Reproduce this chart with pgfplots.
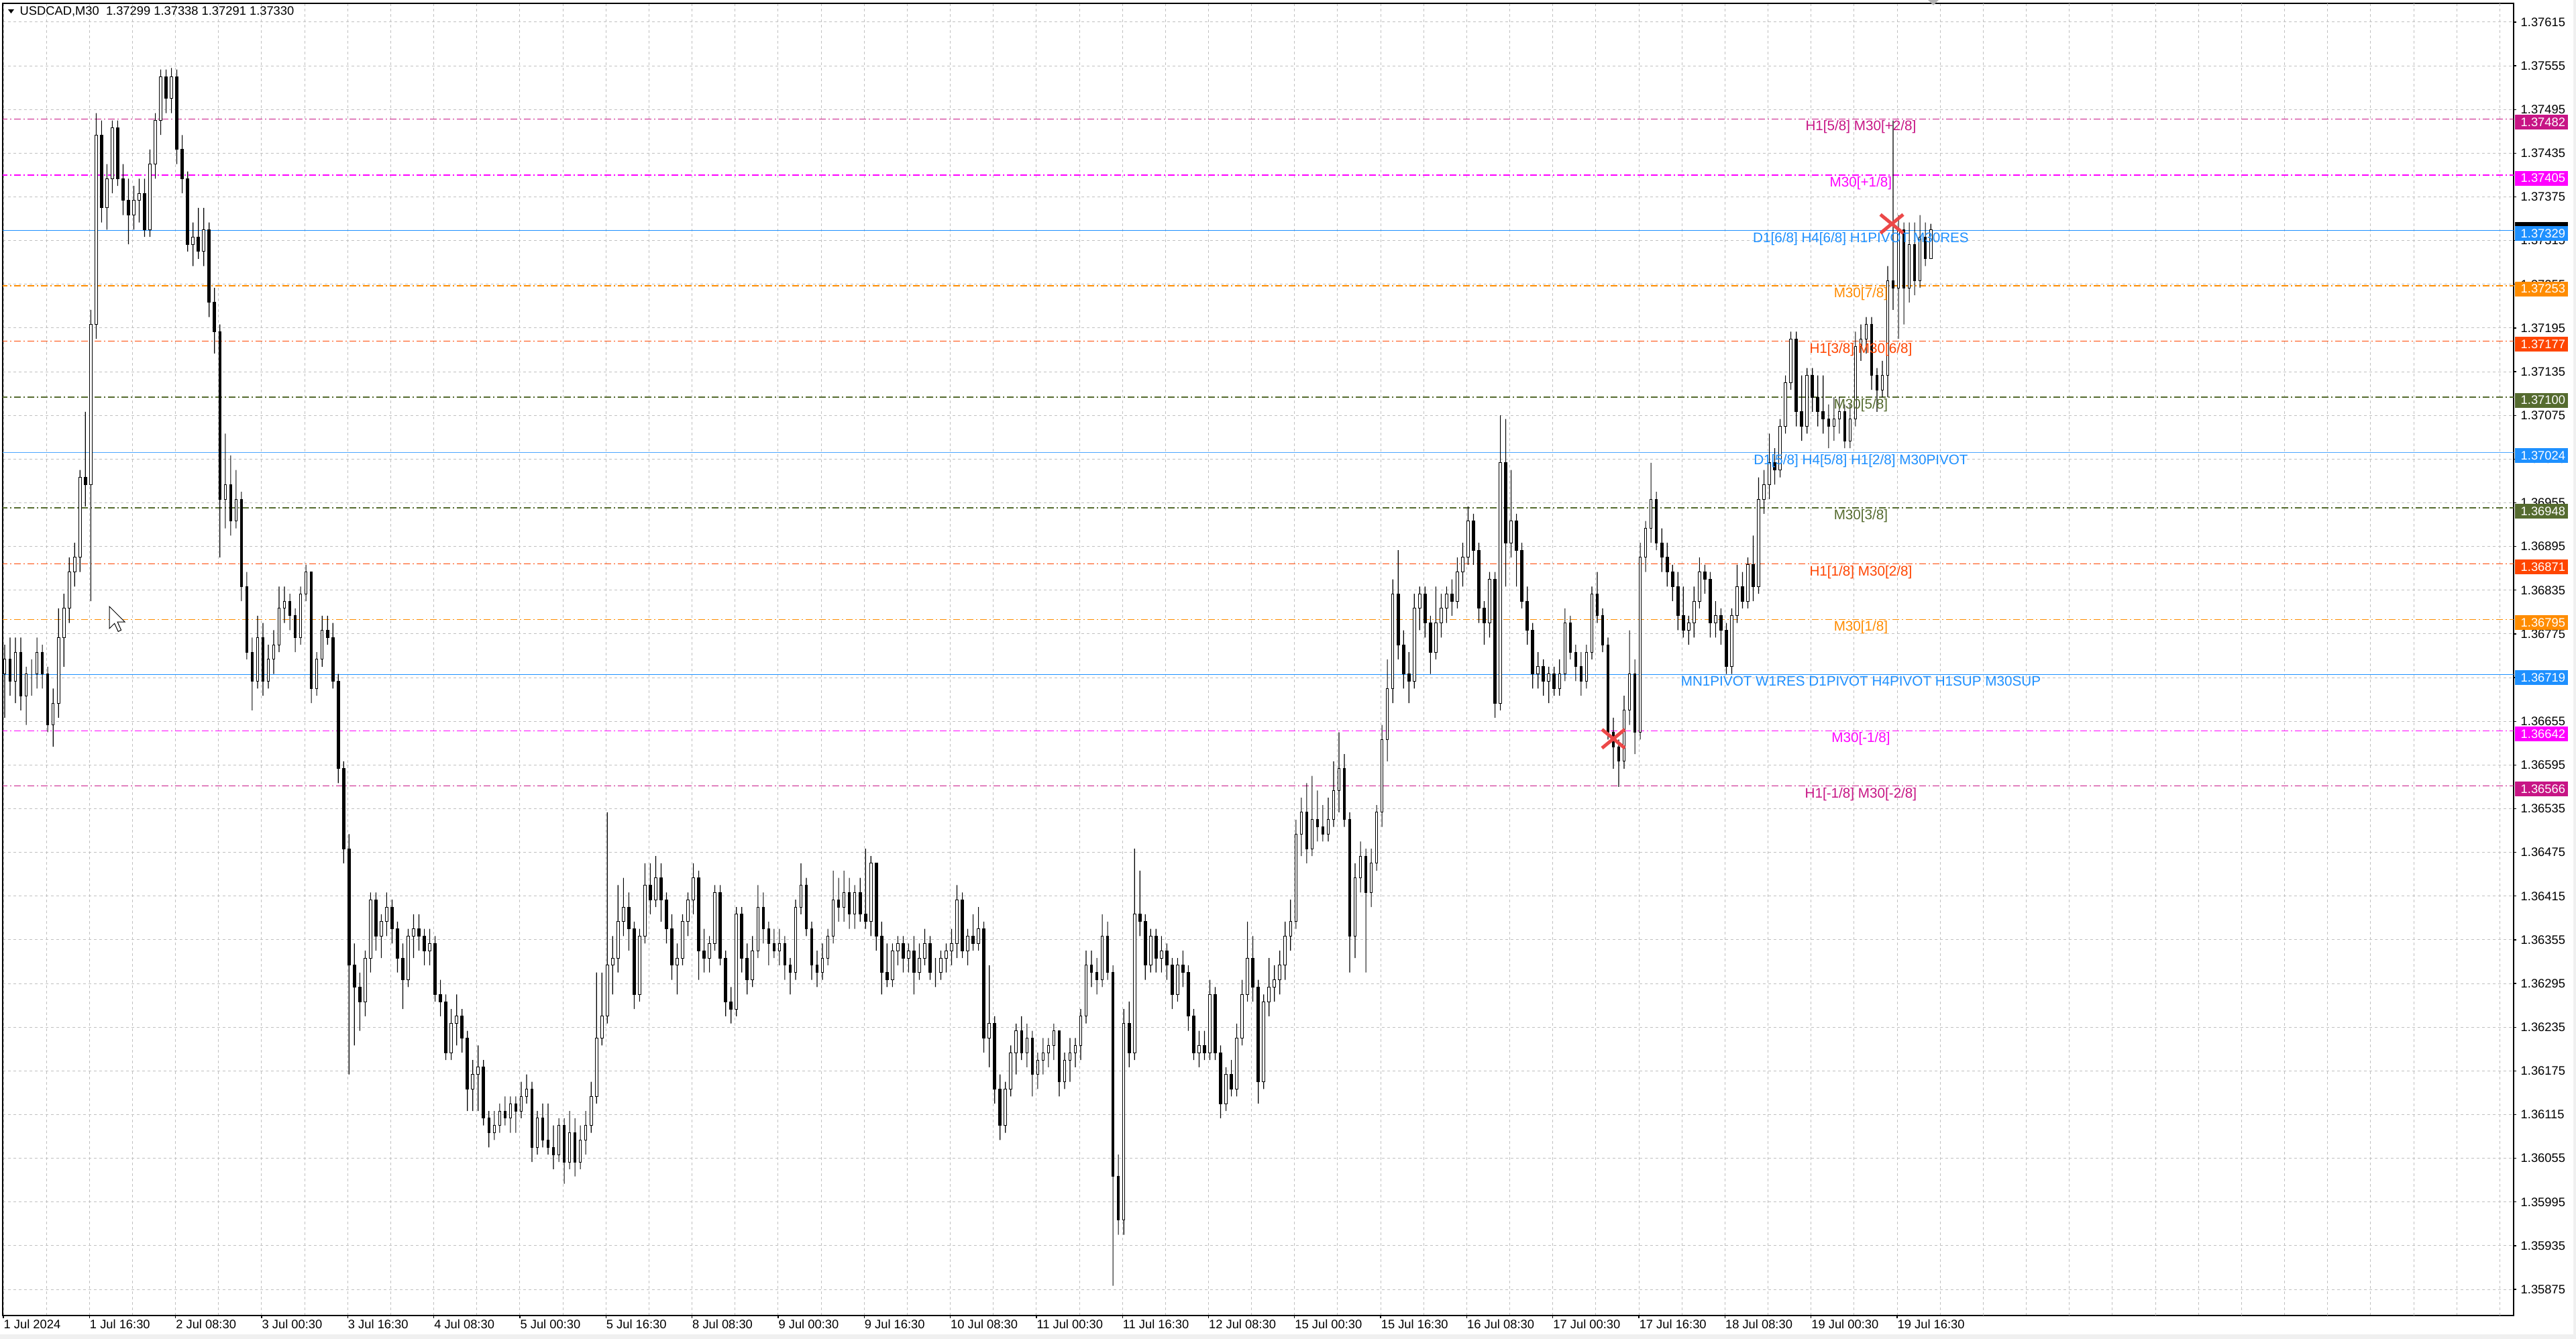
\documentclass[border=0pt]{standalone}
\usepackage{pgfplots}
\usepackage{pgfplotstable}
\pgfplotsset{compat=1.18}
\usepackage{fontspec}
\setmainfont{Liberation Sans}

\definecolor{mvr}{RGB}{199,21,133}
\definecolor{mag}{RGB}{255,0,255}
\definecolor{dblue}{RGB}{30,144,255}
\definecolor{dorange}{RGB}{255,140,0}
\definecolor{ored}{RGB}{255,69,0}
\definecolor{olive}{RGB}{85,107,47}
\definecolor{gridc}{RGB}{192,192,192}
\definecolor{xred}{RGB}{236,72,72}
\definecolor{chrome}{RGB}{240,240,240}

\newcommand\mtfont{\fontsize{5.5}{6}\selectfont}
\newcommand\lvfont{\fontsize{6.2}{7}\selectfont}

% USDCAD M30, one row per hour (two M30 bars), x = bar index
\pgfplotstableread{
x o h l c
0.5 1.3672 1.3676 1.3666 1.3674
2.5 1.3674 1.3677 1.3669 1.3671
4.5 1.3671 1.3677 1.3668 1.3675
6.5 1.3675 1.3677 1.3667 1.3669
8.5 1.3669 1.3673 1.3665 1.3672
10.5 1.3672 1.3674 1.3669 1.3672
12.5 1.3672 1.3677 1.3670 1.3675
14.5 1.3675 1.3676 1.3670 1.3672
16.5 1.3672 1.3673 1.3664 1.3665
18.5 1.3665 1.3670 1.3662 1.3668
20.5 1.3668 1.3681 1.3666 1.3677
22.5 1.3677 1.3683 1.3673 1.3681
24.5 1.3681 1.3688 1.3679 1.3686
26.5 1.3686 1.3690 1.3684 1.3688
28.5 1.3688 1.3700 1.3686 1.3699
30.5 1.3699 1.3708 1.3695 1.3698
32.5 1.3698 1.3722 1.3682 1.3720
34.5 1.3720 1.3749 1.3718 1.3746
36.5 1.3746 1.3748 1.3734 1.3736
38.5 1.3736 1.3742 1.3733 1.3740
40.5 1.3740 1.3748 1.3738 1.3747
42.5 1.3747 1.3748 1.3739 1.3740
44.5 1.3740 1.3742 1.3735 1.3737
46.5 1.3737 1.3740 1.3731 1.3735
48.5 1.3735 1.3739 1.3733 1.3737
50.5 1.3737 1.3740 1.3734 1.3738
52.5 1.3738 1.3740 1.3732 1.3733
54.5 1.3733 1.3744 1.3732 1.3742
56.5 1.3742 1.3749 1.3740 1.3748
58.5 1.3748 1.3755 1.3746 1.3754
60.5 1.3754 1.3755 1.3749 1.3751
62.5 1.3751 1.37552 1.3749 1.3754
64.5 1.3754 1.3755 1.3742 1.3744
66.5 1.3744 1.3746 1.3738 1.3740
68.5 1.3740 1.3741 1.3730 1.3731
70.5 1.3731 1.3734 1.3728 1.3732
72.5 1.3732 1.3736 1.3729 1.3730
74.5 1.3730 1.3736 1.3728 1.3733
76.5 1.3733 1.3734 1.3721 1.3723
78.5 1.3723 1.3725 1.3716 1.3719
80.5 1.3719 1.3720 1.3688 1.3696
82.5 1.3696 1.3705 1.3692 1.3698
84.5 1.3698 1.3702 1.3691 1.3693
86.5 1.3693 1.3700 1.3692 1.3696
88.5 1.3696 1.3697 1.3682 1.3684
90.5 1.3684 1.3686 1.3674 1.3675
92.5 1.3675 1.3677 1.3667 1.3671
94.5 1.3671 1.3680 1.3670 1.3677
96.5 1.3677 1.3679 1.3669 1.3671
98.5 1.3671 1.3676 1.3670 1.3674
100.5 1.3674 1.3678 1.3672 1.3676
102.5 1.3676 1.3684 1.3675 1.3681
104.5 1.3681 1.3684 1.3679 1.3682
106.5 1.3682 1.3683 1.3678 1.3680
108.5 1.3680 1.3681 1.3675 1.3677
110.5 1.3677 1.3684 1.3676 1.3683
112.5 1.3683 1.3687 1.3682 1.3686
114.5 1.3686 1.3686 1.3668 1.3670
116.5 1.3670 1.3675 1.3669 1.3674
118.5 1.3674 1.3680 1.3673 1.3678
120.5 1.3678 1.3680 1.3676 1.3677
122.5 1.3677 1.3679 1.3670 1.3671
124.5 1.3671 1.3672 1.3657 1.3659
126.5 1.3659 1.3660 1.3646 1.3648
128.5 1.3648 1.3650 1.3617 1.3632
130.5 1.3632 1.3635 1.3621 1.3629
132.5 1.3629 1.3631 1.3623 1.3627
134.5 1.3627 1.3634 1.3625 1.3633
136.5 1.3633 1.3642 1.3631 1.3641
138.5 1.3641 1.3642 1.3634 1.3636
140.5 1.3636 1.3639 1.3633 1.3638
142.5 1.3638 1.3642 1.3636 1.3640
144.5 1.3640 1.3641 1.3635 1.3637
146.5 1.3637 1.3638 1.3631 1.3633
148.5 1.3633 1.3635 1.3626 1.3630
150.5 1.3630 1.3637 1.3629 1.3636
152.5 1.3636 1.3639 1.3633 1.3637
154.5 1.3637 1.3639 1.3634 1.3636
156.5 1.3636 1.3637 1.3632 1.3634
158.5 1.3634 1.3637 1.3632 1.3635
160.5 1.3635 1.3636 1.3627 1.3628
162.5 1.3628 1.3630 1.3625 1.3627
164.5 1.3627 1.3628 1.3619 1.3620
166.5 1.3620 1.3626 1.3619 1.3624
168.5 1.3624 1.3628 1.3621 1.3625
170.5 1.3625 1.3626 1.3620 1.3622
172.5 1.3622 1.3623 1.3612 1.3615
174.5 1.3615 1.3619 1.3612 1.3617
176.5 1.3617 1.3621 1.3612 1.3618
178.5 1.3618 1.3619 1.3610 1.3611
180.5 1.3611 1.3612 1.3607 1.3609
182.5 1.3609 1.3612 1.3608 1.3610
184.5 1.3610 1.3613 1.3609 1.3612
186.5 1.3612 1.3614 1.3610 1.3611
188.5 1.3611 1.3614 1.3609 1.3613
190.5 1.3613 1.3614 1.3609 1.3612
192.5 1.3612 1.3616 1.3611 1.3614
194.5 1.3614 1.3617 1.3613 1.3615
196.5 1.3615 1.3616 1.3605 1.3607
198.5 1.3607 1.3612 1.3606 1.3611
200.5 1.3611 1.3613 1.3607 1.3608
202.5 1.3608 1.3613 1.3606 1.3607
204.5 1.3607 1.3610 1.3604 1.3606
206.5 1.3606 1.3611 1.3605 1.3610
208.5 1.3610 1.3611 1.3602 1.3605
210.5 1.3605 1.3612 1.3604 1.3609
212.5 1.3609 1.3611 1.3603 1.3605
214.5 1.3605 1.3610 1.3604 1.3608
216.5 1.3608 1.3612 1.3606 1.3610
218.5 1.3610 1.3616 1.3609 1.3614
220.5 1.3614 1.3631 1.3613 1.3622
222.5 1.3622 1.3631 1.3621 1.3625
224.5 1.3625 1.3653 1.3624 1.3632
226.5 1.3632 1.3636 1.3628 1.3633
228.5 1.3633 1.3643 1.3631 1.3638
230.5 1.3638 1.3644 1.3636 1.3640
232.5 1.3640 1.3642 1.3634 1.3637
234.5 1.3637 1.3638 1.3626 1.3628
236.5 1.3628 1.3637 1.3627 1.3636
238.5 1.3636 1.3646 1.3635 1.3643
240.5 1.3643 1.3646 1.3639 1.3641
242.5 1.3641 1.3647 1.3640 1.3644
244.5 1.3644 1.3646 1.3638 1.3641
246.5 1.3641 1.3642 1.3635 1.3637
248.5 1.3637 1.3639 1.3630 1.3632
250.5 1.3632 1.3635 1.3628 1.3633
252.5 1.3633 1.3639 1.3632 1.3638
254.5 1.3638 1.3642 1.3636 1.3641
256.5 1.3641 1.3646 1.3639 1.3644
258.5 1.3644 1.3645 1.3630 1.3634
260.5 1.3634 1.3637 1.3631 1.3633
262.5 1.3633 1.3636 1.3631 1.3635
264.5 1.3635 1.3643 1.3634 1.3642
266.5 1.3642 1.3643 1.3632 1.3633
268.5 1.3633 1.3634 1.3625 1.3627
270.5 1.3627 1.3629 1.3624 1.3626
272.5 1.3626 1.3640 1.3625 1.3639
274.5 1.3639 1.3640 1.3631 1.3633
276.5 1.3633 1.3635 1.3628 1.3630
278.5 1.3630 1.3636 1.3629 1.3634
280.5 1.3634 1.3643 1.3633 1.3640
282.5 1.3640 1.3642 1.3635 1.3637
284.5 1.3637 1.3638 1.3632 1.3635
286.5 1.3635 1.3637 1.3633 1.3634
288.5 1.3634 1.3637 1.3632 1.3635
290.5 1.3635 1.3636 1.3630 1.3632
292.5 1.3632 1.3633 1.3628 1.3631
294.5 1.3631 1.3641 1.3630 1.3640
296.5 1.3640 1.3646 1.3639 1.3643
298.5 1.3643 1.3644 1.3636 1.3637
300.5 1.3637 1.3638 1.3630 1.3632
302.5 1.3632 1.3634 1.3629 1.3631
304.5 1.3631 1.3635 1.3630 1.3633
306.5 1.3633 1.3637 1.3632 1.3636
308.5 1.3636 1.3645 1.3635 1.3641
310.5 1.3641 1.3644 1.3638 1.3640
312.5 1.3640 1.3645 1.3638 1.3642
314.5 1.3642 1.3644 1.3637 1.3639
316.5 1.3639 1.3643 1.3637 1.3642
318.5 1.3642 1.3644 1.3638 1.3639
320.5 1.3639 1.3648 1.3637 1.3638
322.5 1.3638 1.3647 1.3636 1.3646
324.5 1.3646 1.3646 1.3634 1.3636
326.5 1.3636 1.3638 1.3628 1.3631
328.5 1.3631 1.3635 1.3629 1.3630
330.5 1.3630 1.3635 1.3629 1.3634
332.5 1.3634 1.3636 1.3632 1.3635
334.5 1.3635 1.3636 1.3631 1.3633
336.5 1.3633 1.3635 1.3631 1.3634
338.5 1.3634 1.3636 1.3628 1.3631
340.5 1.3631 1.3635 1.3630 1.3633
342.5 1.3633 1.3637 1.3632 1.3635
344.5 1.3635 1.3636 1.3630 1.3631
346.5 1.3631 1.3633 1.3629 1.3631
348.5 1.3631 1.3634 1.3630 1.3633
350.5 1.3633 1.3635 1.3631 1.3634
352.5 1.3634 1.3637 1.3632 1.3635
354.5 1.3635 1.3643 1.3633 1.3641
356.5 1.3641 1.3642 1.3633 1.3634
358.5 1.3634 1.3637 1.3632 1.3636
360.5 1.3636 1.3639 1.3634 1.3635
362.5 1.3635 1.3640 1.3634 1.3637
364.5 1.3637 1.3638 1.3620 1.3622
366.5 1.3622 1.3632 1.3618 1.3624
368.5 1.3624 1.3625 1.3613 1.3615
370.5 1.3615 1.3617 1.3608 1.3610
372.5 1.3610 1.3616 1.3609 1.3615
374.5 1.3615 1.3621 1.3614 1.3620
376.5 1.3620 1.3624 1.3617 1.3623
378.5 1.3623 1.3625 1.3619 1.3620
380.5 1.3620 1.3624 1.3618 1.3622
382.5 1.3622 1.3623 1.3614 1.3617
384.5 1.3617 1.3620 1.3615 1.3619
386.5 1.3619 1.3622 1.3617 1.3620
388.5 1.3620 1.3622 1.3618 1.3621
390.5 1.3621 1.3624 1.3619 1.3623
392.5 1.3623 1.3623 1.3614 1.3616
394.5 1.3616 1.3620 1.3615 1.3619
396.5 1.3619 1.3622 1.3616 1.3620
398.5 1.3620 1.3622 1.3618 1.3621
400.5 1.3621 1.3626 1.3619 1.3625
402.5 1.3625 1.3634 1.3624 1.3632
404.5 1.3632 1.3634 1.3629 1.3631
406.5 1.3631 1.3633 1.3628 1.3630
408.5 1.3630 1.3639 1.3629 1.3636
410.5 1.3636 1.3638 1.3630 1.3631
412.5 1.3631 1.3632 1.3588 1.3603
414.5 1.3603 1.3606 1.3595 1.3597
416.5 1.3597 1.3626 1.3595 1.3624
418.5 1.3624 1.3627 1.3618 1.3620
420.5 1.3620 1.3648 1.3619 1.3639
422.5 1.3639 1.3645 1.3636 1.3638
424.5 1.3638 1.3639 1.3630 1.3632
426.5 1.3632 1.3637 1.3631 1.3636
428.5 1.3636 1.3637 1.3631 1.3633
430.5 1.3633 1.3636 1.3631 1.3634
432.5 1.3634 1.3635 1.3630 1.3632
434.5 1.3632 1.3633 1.3626 1.3628
436.5 1.3628 1.3633 1.3627 1.3632
438.5 1.3632 1.3634 1.3629 1.3631
440.5 1.3631 1.3632 1.3623 1.3625
442.5 1.3625 1.3626 1.3619 1.3620
444.5 1.3620 1.3623 1.3618 1.3621
446.5 1.3621 1.3623 1.3619 1.3620
448.5 1.3620 1.3630 1.3619 1.3628
450.5 1.3628 1.3629 1.3619 1.3620
452.5 1.3620 1.3621 1.3611 1.3613
454.5 1.3613 1.3618 1.3612 1.3617
456.5 1.3617 1.3619 1.3614 1.3615
458.5 1.3615 1.3624 1.3614 1.3622
460.5 1.3622 1.3630 1.3621 1.3628
462.5 1.3628 1.3638 1.3627 1.3633
464.5 1.3633 1.3636 1.3627 1.3629
466.5 1.3629 1.3630 1.3613 1.3616
468.5 1.3616 1.3628 1.3615 1.3627
470.5 1.3627 1.3633 1.3625 1.3629
472.5 1.3629 1.3632 1.3627 1.3630
474.5 1.3630 1.3634 1.3628 1.3632
476.5 1.3632 1.3638 1.3630 1.3636
478.5 1.3636 1.3641 1.3634 1.3638
480.5 1.3638 1.3652 1.3637 1.3650
482.5 1.3650 1.3655 1.3647 1.3653
484.5 1.3653 1.3657 1.3646 1.3648
486.5 1.3648 1.3658 1.3647 1.3652
488.5 1.3652 1.3656 1.3649 1.3651
490.5 1.3651 1.3654 1.3649 1.3650
492.5 1.3650 1.3655 1.3649 1.3652
494.5 1.3652 1.3660 1.3651 1.3656
496.5 1.3656 1.3664 1.3653 1.3659
498.5 1.3659 1.3661 1.3651 1.3652
500.5 1.3652 1.3653 1.3631 1.3636
502.5 1.3636 1.3646 1.3633 1.3644
504.5 1.3644 1.3649 1.3642 1.3647
506.5 1.3647 1.3648 1.3631 1.3642
508.5 1.3642 1.3648 1.3640 1.3646
510.5 1.3646 1.3654 1.3645 1.3653
512.5 1.3653 1.3665 1.3651 1.3663
514.5 1.3663 1.3674 1.3660 1.3670
516.5 1.3670 1.3685 1.3668 1.3683
518.5 1.3683 1.3689 1.3674 1.3676
520.5 1.3676 1.3678 1.3670 1.3672
522.5 1.3672 1.3675 1.3668 1.3671
524.5 1.3671 1.3683 1.3670 1.3681
526.5 1.3681 1.3684 1.3678 1.3683
528.5 1.3683 1.3684 1.3677 1.3679
530.5 1.3679 1.3680 1.3672 1.3675
532.5 1.3675 1.3684 1.3674 1.3679
534.5 1.3679 1.3683 1.3677 1.3681
536.5 1.3681 1.3684 1.3679 1.3683
538.5 1.3683 1.3685 1.3680 1.3682
540.5 1.3682 1.3688 1.3681 1.3686
542.5 1.3686 1.3690 1.3684 1.3688
544.5 1.3688 1.3695 1.3687 1.3693
546.5 1.3693 1.3694 1.3687 1.3689
548.5 1.3689 1.3690 1.3679 1.3681
550.5 1.3681 1.3682 1.3676 1.3679
552.5 1.3679 1.3686 1.3677 1.3685
554.5 1.3685 1.3686 1.3666 1.3668
556.5 1.3668 1.37075 1.3667 1.3701
558.5 1.3701 1.3707 1.3684 1.3690
560.5 1.3690 1.3700 1.3688 1.3693
562.5 1.3693 1.3694 1.3684 1.3689
564.5 1.3689 1.3690 1.3681 1.3682
566.5 1.3682 1.3684 1.3676 1.3678
568.5 1.3678 1.3679 1.3670 1.3672
570.5 1.3672 1.3675 1.3670 1.3673
572.5 1.3673 1.3674 1.3669 1.3671
574.5 1.3671 1.3673 1.3668 1.3672
576.5 1.3672 1.3673 1.3669 1.3670
578.5 1.3670 1.3674 1.3669 1.3672
580.5 1.3672 1.3681 1.3671 1.3679
582.5 1.3679 1.3680 1.3674 1.3675
584.5 1.3675 1.3676 1.3671 1.3673
586.5 1.3673 1.3675 1.3669 1.3671
588.5 1.3671 1.3676 1.3670 1.3675
590.5 1.3675 1.3684 1.3674 1.3683
592.5 1.3683 1.3686 1.3679 1.3680
594.5 1.3680 1.3681 1.3675 1.3676
596.5 1.3676 1.3677 1.3663 1.3664
598.5 1.3664 1.3666 1.3659 1.3662
600.5 1.3662 1.3663 1.36565 1.3660
602.5 1.3660 1.3669 1.3659 1.3667
604.5 1.3667 1.3678 1.3665 1.3672
606.5 1.3672 1.3674 1.3661 1.3664
608.5 1.3664 1.3690 1.3663 1.3688
610.5 1.3688 1.3693 1.3686 1.3692
612.5 1.3692 1.3701 1.3690 1.3696
614.5 1.3696 1.3697 1.3689 1.3690
616.5 1.3690 1.3692 1.3686 1.3688
618.5 1.3688 1.3690 1.3684 1.3686
620.5 1.3686 1.3687 1.3682 1.3684
622.5 1.3684 1.3686 1.3678 1.3680
624.5 1.3680 1.3684 1.3677 1.3678
626.5 1.3678 1.3680 1.3676 1.3679
628.5 1.3679 1.3684 1.3677 1.3682
630.5 1.3682 1.3688 1.3681 1.3686
632.5 1.3686 1.3687 1.3683 1.3685
634.5 1.3685 1.3686 1.3677 1.3679
636.5 1.3679 1.3682 1.3677 1.3680
638.5 1.3680 1.3681 1.3676 1.3678
640.5 1.3678 1.3679 1.3672 1.3673
642.5 1.3673 1.3681 1.3672 1.3680
644.5 1.3680 1.3687 1.3679 1.3684
646.5 1.3684 1.3686 1.3681 1.3682
648.5 1.3682 1.3688 1.3681 1.3687
650.5 1.3687 1.3691 1.3682 1.3684
652.5 1.3684 1.3699 1.3683 1.3696
654.5 1.3696 1.3700 1.3694 1.3698
656.5 1.3698 1.3705 1.3696 1.3701
658.5 1.3701 1.3703 1.3698 1.3700
660.5 1.3700 1.3707 1.3699 1.3706
662.5 1.3706 1.3713 1.3705 1.3712
664.5 1.3712 1.3719 1.3711 1.3718
666.5 1.3718 1.3719 1.3706 1.3708
668.5 1.3708 1.3713 1.3704 1.3706
670.5 1.3706 1.3714 1.3705 1.3713
672.5 1.3713 1.3714 1.3708 1.3710
674.5 1.3710 1.3713 1.3706 1.3708
676.5 1.3708 1.3713 1.3705 1.3707
678.5 1.3707 1.3709 1.3703 1.3706
680.5 1.3706 1.3710 1.3704 1.3707
682.5 1.3707 1.3710 1.3705 1.3708
684.5 1.3708 1.3709 1.3703 1.3704
686.5 1.3704 1.3709 1.3703 1.3707
688.5 1.3707 1.3719 1.3706 1.3717
690.5 1.3717 1.3720 1.3715 1.3718
692.5 1.3718 1.3721 1.3716 1.3720
694.5 1.3720 1.3721 1.3711 1.3713
696.5 1.3713 1.3714 1.3708 1.3711
698.5 1.3711 1.3715 1.3710 1.3713
700.5 1.3713 1.3728 1.3710 1.3726
702.5 1.3726 1.3748 1.3722 1.3725
704.5 1.3725 1.3735 1.3718 1.3733
706.5 1.3733 1.3734 1.3720 1.3725
708.5 1.3725 1.3734 1.3723 1.3731
710.5 1.3731 1.3734 1.3724 1.3726
712.5 1.3726 1.3735 1.3725 1.3732
714.5 1.3732 1.3734 1.3728 1.3729
716.5 1.3729 1.37338 1.37291 1.37330
}\candles

\pgfplotsset{
  mt/.style={
    at={(1.2pt,10.5pt)}, anchor=south west,
    scale only axis, width=1122.9pt, height=586.8pt,
    xmin=-0.25, xmax=933.17, ymin=1.358391, ymax=1.376408,
  },
  dd/.style={line width=0.4pt, dash pattern=on 3pt off 1.2pt on 0.6pt off 1.2pt},
}

\newcommand\pricebox[3]{%
  \fill[#2] ([xshift=0.45pt,yshift=1.92pt]#1) rectangle ([xshift=24.3pt,yshift=-4.68pt]#1);
  \node[anchor=west, inner sep=0pt, text=white, font=\mtfont] at ([xshift=3pt,yshift=-1.38pt]#1) {#3};}

\begin{document}
\begin{tikzpicture}
\path[use as bounding box, fill=white] (0,0) rectangle (1152pt,598.8pt);
\fill[chrome] (0,0) rectangle (1152pt,2.1pt);
\fill[chrome] (1150.8pt,0) rectangle (1152pt,598.8pt);

% grid, levels, ticks
\begin{axis}[mt, no markers,
  axis line style={black, line width=0.6pt},
  tick align=outside, major tick length=1.2pt, minor tick length=0pt,
  tick style={black, line width=0.4pt},
  xtick pos=bottom, ytick pos=right, yticklabel pos=right,
  xtick={0,32,...,704},
  xticklabels={1 Jul 2024,1 Jul 16:30,2 Jul 08:30,3 Jul 00:30,3 Jul 16:30,4 Jul 08:30,5 Jul 00:30,5 Jul 16:30,8 Jul 08:30,9 Jul 00:30,9 Jul 16:30,10 Jul 08:30,11 Jul 00:30,11 Jul 16:30,12 Jul 08:30,15 Jul 00:30,15 Jul 16:30,16 Jul 08:30,17 Jul 00:30,17 Jul 16:30,18 Jul 08:30,19 Jul 00:30,19 Jul 16:30},
  minor xtick={16,48,...,912},
  extra x ticks={736,768,...,928}, extra x tick labels={},
  extra x tick style={grid=major, major tick length=0pt},
  ytick={1.35875,1.35935,1.35995,1.36055,1.36115,1.36175,1.36235,1.36295,1.36355,1.36415,1.36475,1.36535,1.36595,1.36655,1.36715,1.36775,1.36835,1.36895,1.36955,1.37015,1.37075,1.37135,1.37195,1.37255,1.37315,1.37375,1.37435,1.37495,1.37555,1.37615},
  yticklabels={1.35875,1.35935,1.35995,1.36055,1.36115,1.36175,1.36235,1.36295,1.36355,1.36415,1.36475,1.36535,1.36595,1.36655,1.36715,1.36775,1.36835,1.36895,1.36955,1.37015,1.37075,1.37135,1.37195,1.37255,1.37315,1.37375,1.37435,1.37495,1.37555,1.37615},
  xmajorgrids, xminorgrids, ymajorgrids,
  grid style={gridc, line width=0.3pt, dash pattern=on 1.2pt off 1.2pt},
  minor grid style={gridc, line width=0.3pt, dash pattern=on 1.2pt off 1.2pt},
  ticklabel style={font=\mtfont, inner sep=0pt},
  xticklabel style={anchor=north west, yshift=-0.6pt},
  yticklabel style={anchor=west, xshift=1.8pt},
]
\addplot[mvr, dd] coordinates {(-1,1.37482) (934,1.37482)};
\addplot[mag, dd] coordinates {(-1,1.37405) (934,1.37405)};
\addplot[dblue, line width=0.45pt] coordinates {(-1,1.37329) (934,1.37329)};
\addplot[dorange, dd] coordinates {(-1,1.37253) (934,1.37253)};
\addplot[ored, dd] coordinates {(-1,1.37177) (934,1.37177)};
\addplot[olive, dd] coordinates {(-1,1.37100) (934,1.37100)};
\addplot[dblue!80, line width=0.3pt] coordinates {(-1,1.37024) (934,1.37024)};
\addplot[olive, dd] coordinates {(-1,1.36948) (934,1.36948)};
\addplot[ored, dd] coordinates {(-1,1.36871) (934,1.36871)};
\addplot[dorange, dd] coordinates {(-1,1.36795) (934,1.36795)};
\addplot[dblue, line width=0.45pt] coordinates {(-1,1.36719) (934,1.36719)};
\addplot[mag, dd] coordinates {(-1,1.36642) (934,1.36642)};
\addplot[mvr, dd] coordinates {(-1,1.36566) (934,1.36566)};

\coordinate (r1) at (axis cs:933.17,1.37482);
\coordinate (r2) at (axis cs:933.17,1.37405);
\coordinate (r3) at (axis cs:933.17,1.37329);
\coordinate (r4) at (axis cs:933.17,1.37253);
\coordinate (r5) at (axis cs:933.17,1.37177);
\coordinate (r6) at (axis cs:933.17,1.37100);
\coordinate (r7) at (axis cs:933.17,1.37024);
\coordinate (r8) at (axis cs:933.17,1.36948);
\coordinate (r9) at (axis cs:933.17,1.36871);
\coordinate (r10) at (axis cs:933.17,1.36795);
\coordinate (r11) at (axis cs:933.17,1.36719);
\coordinate (r12) at (axis cs:933.17,1.36642);
\coordinate (r13) at (axis cs:933.17,1.36566);
\coordinate (rb) at (axis cs:933.17,1.37330);
\end{axis}

% wicks: thin stacked bars from low to high
\begin{axis}[mt, hide axis, no markers, ybar stacked, bar width=0.34pt]
\addplot[draw=none, fill=none, mark=none] table[x=x, y=l] {\candles};
\addplot[draw=none, fill=black, mark=none] table[x=x, y expr={\thisrow{h}-\thisrow{l}}] {\candles};
\end{axis}

% candle bodies
\begin{axis}[mt, hide axis, no markers, ybar stacked, bar width=0.9]
\addplot[draw=none, fill=none, mark=none] table[x=x, y expr={min(\thisrow{o},\thisrow{c})}] {\candles};
\addplot[draw=black, fill=white, line width=0.3pt, mark=none] table[x=x, y expr={max(\thisrow{c}-\thisrow{o},0)}] {\candles};
\addplot[draw=black, fill=black, line width=0.3pt, mark=none] table[x=x, y expr={max(\thisrow{o}-\thisrow{c},0)}] {\candles};
\end{axis}

% level names and markers
\begin{axis}[mt, hide axis]
\begin{scope}[every node/.style={anchor=north, inner sep=0pt, yshift=-0.6pt, font=\lvfont}]
\node[text=mvr] at (axis cs:690.5,1.37482) {H1[5/8] M30[+2/8]};
\node[text=mag] at (axis cs:690.5,1.37405) {M30[+1/8]};
\node[text=dblue] at (axis cs:690.5,1.37329) {D1[6/8] H4[6/8] H1PIVOT M30RES};
\node[text=dorange] at (axis cs:690.5,1.37253) {M30[7/8]};
\node[text=ored] at (axis cs:690.5,1.37177) {H1[3/8] M30[6/8]};
\node[text=olive] at (axis cs:690.5,1.37100) {M30[5/8]};
\node[text=dblue] at (axis cs:690.5,1.37024) {D1[5/8] H4[5/8] H1[2/8] M30PIVOT};
\node[text=olive] at (axis cs:690.5,1.36948) {M30[3/8]};
\node[text=ored] at (axis cs:690.5,1.36871) {H1[1/8] M30[2/8]};
\node[text=dorange] at (axis cs:690.5,1.36795) {M30[1/8]};
\node[text=dblue] at (axis cs:690.5,1.36719) {MN1PIVOT W1RES D1PIVOT H4PIVOT H1SUP M30SUP};
\node[text=mag] at (axis cs:690.5,1.36642) {M30[-1/8]};
\node[text=mvr] at (axis cs:690.5,1.36566) {H1[-1/8] M30[-2/8]};
\end{scope}
\addplot[only marks, mark=x, mark size=7.2pt, xred, line width=1.5pt,
  mark options={yscale=0.82}] coordinates {(702,1.37338) (598.5,1.36631)};
\end{axis}

% price boxes on the right scale
\fill[black] ([xshift=0.45pt,yshift=3.3pt]rb) rectangle ([xshift=24.3pt,yshift=-3.3pt]rb);
\pricebox{r1}{mvr}{1.37482}
\pricebox{r2}{mag}{1.37405}
\pricebox{r3}{dblue}{1.37329}
\pricebox{r4}{dorange}{1.37253}
\pricebox{r5}{ored}{1.37177}
\pricebox{r6}{olive}{1.37100}
\pricebox{r7}{dblue}{1.37024}
\pricebox{r8}{olive}{1.36948}
\pricebox{r9}{ored}{1.36871}
\pricebox{r10}{dorange}{1.36795}
\pricebox{r11}{dblue}{1.36719}
\pricebox{r12}{mag}{1.36642}
\pricebox{r13}{mvr}{1.36566}

% title, shift marker, mouse pointer
\fill (3.6pt,594.6pt) -- (6.3pt,594.6pt) -- (4.95pt,592.8pt) -- cycle;
\node[anchor=west, inner sep=0pt, font=\mtfont] at (8.7pt,593.7pt) {USDCAD,M30\ \ 1.37299 1.37338 1.37291 1.37330};
\fill[gray!60] (862.2pt,598.8pt) -- (867pt,598.8pt) -- (864.6pt,596.4pt) -- cycle;
\filldraw[fill=white, draw=black, line width=0.3pt, x=0.33pt, y=0.33pt, shift={(48.9pt,327.6pt)}]
  (0,0) -- (0,-30) -- (7,-23) -- (12,-34) -- (16,-32) -- (11,-21) -- (21,-21) -- cycle;
\end{tikzpicture}
\end{document}
